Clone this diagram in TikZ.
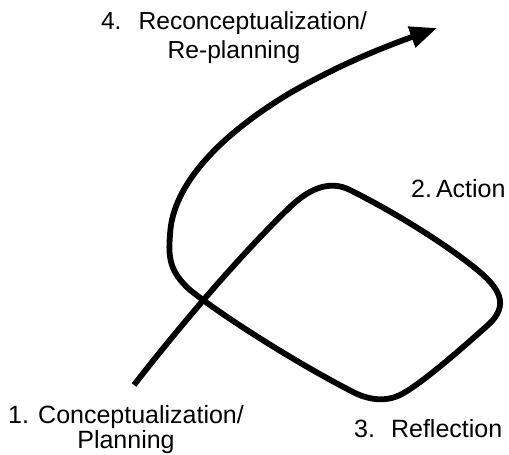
\documentclass[tikz,border=0pt]{standalone}
\usepackage{fontspec}
\setmainfont{Liberation Sans}
\usetikzlibrary{arrows.meta}
\begin{document}
\begin{tikzpicture}[x=1pt,y=-1pt,
  cycle/.style={line width=5.8pt, line cap=butt, line join=round},
  lbl/.style={inner sep=0pt, text=black}]
\useasboundingbox (0,0) rectangle (509,455);
% key points of the cycle path
\coordinate (start) at (134,385);
\coordinate (c1) at (290,207);
\coordinate (c2) at (350,190);
\coordinate (c3) at (475,268);
\coordinate (c4) at (488,325);
\coordinate (c5) at (400,395);
\coordinate (c6) at (355,393);
\coordinate (c7) at (190,290);
\coordinate (c8) at (170,235);
\coordinate (c9) at (290,93);
\coordinate (tip) at (437,28);
\draw[cycle, -{Triangle[length=27pt,width=21pt]}]
  (start) .. controls (165,345) and (230,265) .. (c1)
          .. controls (310,188) and (330,180) .. (c2)
          .. controls (390,210) and (440,240) .. (c3)
          .. controls (500,288) and (510,305) .. (c4)
          .. controls (460,350) and (420,385) .. (c5)
          .. controls (385,402) and (370,400) .. (c6)
          .. controls (300,365) and (225,318) .. (c7)
          .. controls (170,272) and (168,258) .. (c8)
          .. controls (172,185) and (220,135) .. (c9)
          .. controls (330,70) and (370,52) .. (tip);
\node[lbl, anchor=base, align=center, font=\fontsize{24.6}{29}\selectfont] (l4) at (234,58)
  {4.\hspace{17pt}Reconceptualization/\\Re-planning};
\node[lbl, anchor=base west, font=\fontsize{25}{29}\selectfont] (l2) at (411,197) {2.\hspace{4pt}Action};
\node[lbl, anchor=base west, font=\fontsize{25}{29}\selectfont] (l3) at (354,437) {3.\hspace{16pt}Reflection};
\node[lbl, anchor=base, align=center, font=\fontsize{25}{25}\selectfont] (l1) at (126,448)
  {1. Conceptualization/\\Planning};
\end{tikzpicture}
\end{document}
